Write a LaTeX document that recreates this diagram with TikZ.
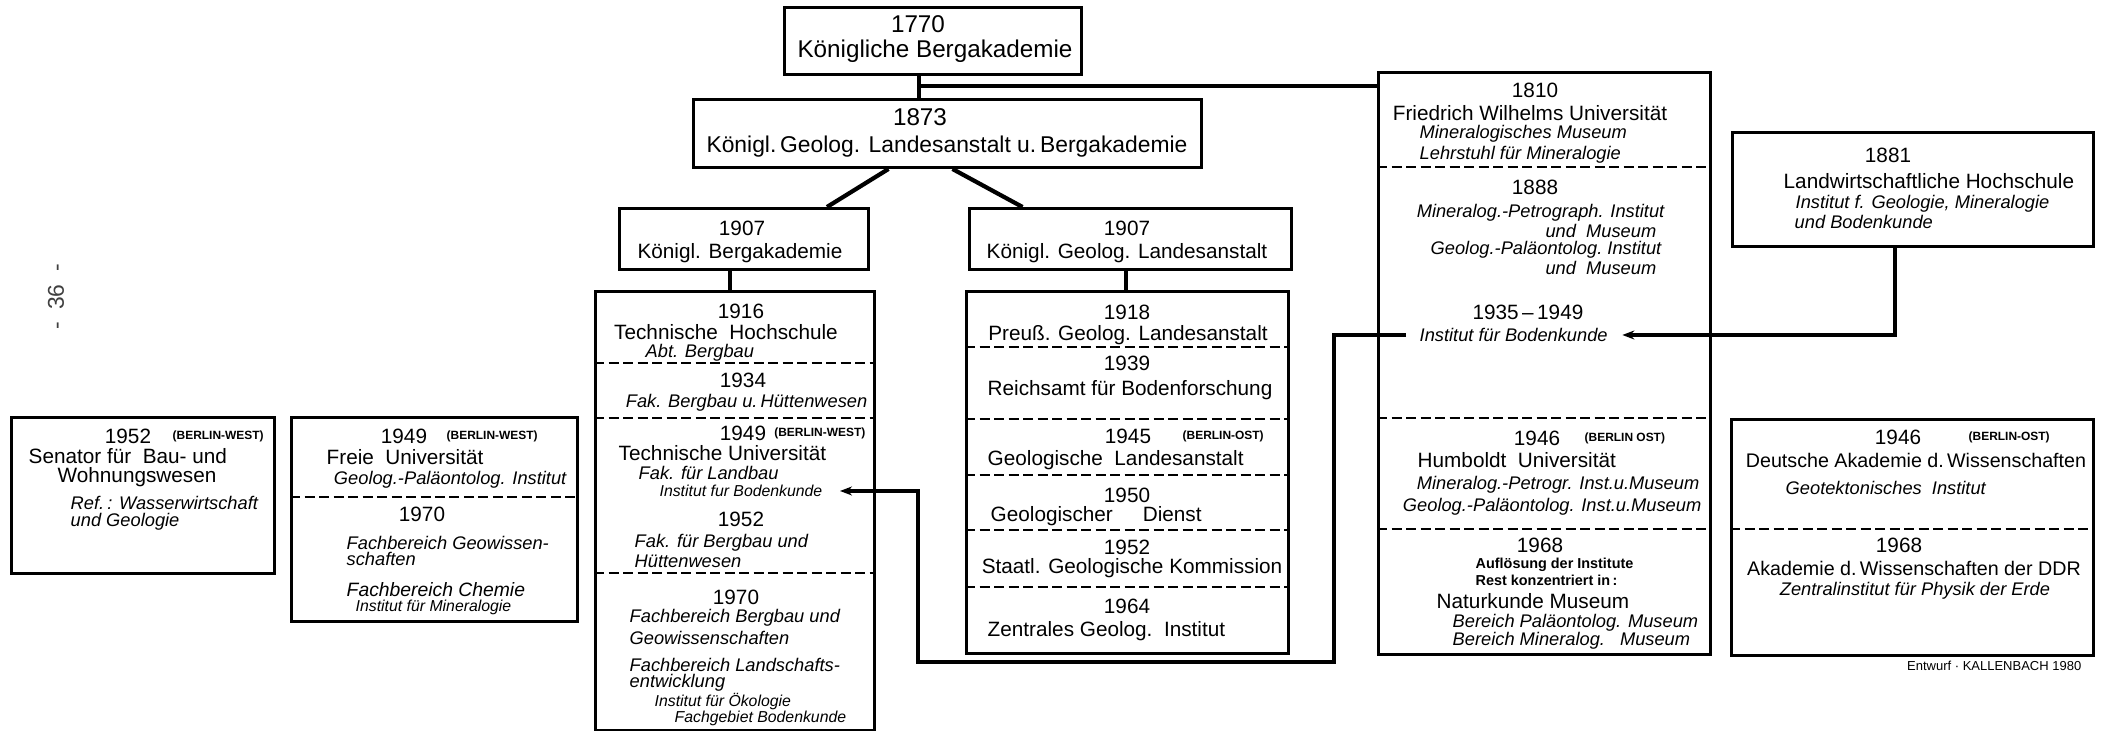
\documentclass[tikz,border=0pt]{standalone}
\usepackage{fontspec}
\setmainfont{Liberation Sans}
\usetikzlibrary{arrows.meta, calc, positioning}

\begin{document}
\begin{tikzpicture}[x=0.1mm, y=-0.1mm, >={Stealth[length=1.2mm,width=0.9mm]},
  box/.style={draw, line width=0.85pt, inner sep=0pt, anchor=north west},
  conn/.style={line width=0.9pt},
  divider/.style={line width=0.6pt, dash pattern=on 1mm off 0.45mm},
  lbl/.style={inner sep=0pt, font=\fontsize{5.9}{6}\selectfont},
  big/.style={inner sep=0pt, font=\fontsize{6.9}{7}\selectfont},
  sub/.style={inner sep=0pt, font=\fontsize{5.2}{6}\selectfont\itshape},
  fine/.style={inner sep=0pt, font=\fontsize{4.5}{5}\selectfont\itshape},
  mini/.style={inner sep=0pt, font=\fontsize{4.1}{5}\selectfont\bfseries},
  zone/.style={inner sep=0pt, font=\fontsize{3.4}{4}\selectfont\bfseries}]

\useasboundingbox (0,0) rectangle (2107,731);

% page number
\node[lbl, rotate=90, text=black!75, font=\fontsize{6.5}{7}\selectfont] (page) at (56,297) {-\ \ 36\ \ -};

% boxes
\node[box, minimum width=29.7mm, minimum height=6.7mm] (ba1770) at (783,6) {};
\node[box, minimum width=50.8mm, minimum height=6.8mm] (gla1873) at (692,98) {};
\node[box, minimum width=24.9mm, minimum height=6.1mm] (ba1907) at (618,207) {};
\node[box, minimum width=32.2mm, minimum height=6.1mm] (gla1907) at (968,207) {};
\node[box, minimum width=27.9mm, minimum height=43.9mm] (tu) at (594,290) {};
\node[box, minimum width=32.2mm, minimum height=36.2mm] (zgi) at (965,290) {};
\node[box, minimum width=33.2mm, minimum height=58.2mm] (hu) at (1377,71) {};
\node[box, minimum width=36.1mm, minimum height=11.4mm] (lwh) at (1731,131) {};
\node[box, minimum width=36.2mm, minimum height=23.6mm] (adw) at (1730,418) {};
\node[box, minimum width=26.3mm, minimum height=15.6mm] (sen) at (10,416) {};
\node[box, minimum width=28.6mm, minimum height=20.4mm] (fu) at (290,416) {};

% dashed dividers
\foreach \y in {363,418,573} \draw[divider] (594,\y) -- (873,\y);
\foreach \y in {347,419,475,530,587} \draw[divider] (965,\y) -- (1287,\y);
\foreach \y in {167,418,529} \draw[divider] (1377,\y) -- (1709,\y);
\draw[divider] (1730,529) -- (2092,529);
\draw[divider] (290,497) -- (576,497);

% 1770 / 1873
\node[big] (y1770) at (918,24) {1770};
\node[big] (n1770) at (935,51) {Königliche Bergakademie};
\node[big] (y1873) at (920,117) {1873};
\node[big, font=\fontsize{6.5}{7}\selectfont] (n1873) at (947,147) {Königl.\,Geolog. Landesanstalt u.\,Bergakademie};

% 1907
\node[lbl] (y1907a) at (742,228) {1907};
\node[lbl] (n1907a) at (740,253) {Königl. Bergakademie};
\node[lbl] (y1907b) at (1127,228) {1907};
\node[lbl] (n1907b) at (1127,253) {Königl. Geolog. Landesanstalt};

% Technische Hochschule / Universitaet
\node[lbl] (tu16a) at (741,311) {1916};
\node[lbl] (tu16b) at (726,332) {Technische\ \ Hochschule};
\node[sub, anchor=west] (tu16c) at (645,353) {Abt. Bergbau};
\node[lbl] (tu34a) at (743,380) {1934};
\node[sub, anchor=east] (tu34b) at (868,403) {Fak. Bergbau u.\,Hüttenwesen};
\node[lbl] (tu49a) at (743,433) {1949};
\node[zone, anchor=east] (tu49z) at (866,433) {(BERLIN-WEST)};
\node[lbl, anchor=west] (tu49b) at (618,453) {Technische Universität};
\node[sub, anchor=west] (tu49c) at (638,473) {Fak. für Landbau};
\node[fine, anchor=east] (tu49d) at (823,491) {Institut fur Bodenkunde};
\node[lbl] (tu52a) at (741,519) {1952};
\node[sub, anchor=west] (tu52b) at (634,543) {Fak. für Bergbau und};
\node[sub, anchor=west] (tu52c) at (634,561) {Hüttenwesen};
\node[lbl] (tu70a) at (736,597) {1970};
\node[sub, anchor=west] (tu70b) at (629,618) {Fachbereich Bergbau und};
\node[sub, anchor=west] (tu70c) at (629,638) {Geowissenschaften};
\node[sub, anchor=west] (tu70d) at (629,665) {Fachbereich Landschafts-};
\node[sub, anchor=west] (tu70e) at (629,683) {entwicklung};
\node[fine, anchor=west] (tu70f) at (654,702) {Institut für Ökologie};
\node[fine, anchor=west] (tu70g) at (674,718) {Fachgebiet Bodenkunde};

% Preuss. Geolog. Landesanstalt ... Zentrales Geolog. Institut
\node[lbl] (pg18a) at (1127,312) {1918};
\node[lbl] (pg18b) at (1128,335) {Preuß. Geolog. Landesanstalt};
\node[lbl] (pg39a) at (1127,363) {1939};
\node[lbl] (pg39b) at (1130,390) {Reichsamt für Bodenforschung};
\node[lbl] (pg45a) at (1128,436) {1945};
\node[zone, anchor=west] (pg45z) at (1182,436) {(BERLIN-OST)};
\node[lbl, anchor=west] (pg45b) at (987,460) {Geologische\ \ Landesanstalt};
\node[lbl] (pg50a) at (1127,495) {1950};
\node[lbl, anchor=west] (pg50b) at (990,516) {Geologischer\hspace{3mm}Dienst};
\node[lbl] (pg52a) at (1127,547) {1952};
\node[lbl] (pg52b) at (1132,568) {Staatl. Geologische Kommission};
\node[lbl] (pg64a) at (1127,606) {1964};
\node[lbl, anchor=west] (pg64b) at (987,631) {Zentrales Geolog.\ \ Institut};

% Senator
\node[lbl] (se52a) at (128,436) {1952};
\node[zone, anchor=west] (se52z) at (172,436) {(BERLIN-WEST)};
\node[lbl, anchor=west] (se52b) at (28,456) {Senator für\ \ Bau- und};
\node[lbl, anchor=west] (se52c) at (57,477) {Wohnungswesen};
\node[sub, anchor=west] (se52d) at (70,503) {Ref.\,: Wasserwirtschaft};
\node[sub, anchor=west] (se52e) at (70,522) {und Geologie};

% Freie Universitaet
\node[lbl] (fu49a) at (404,436) {1949};
\node[zone, anchor=west] (fu49z) at (446,436) {(BERLIN-WEST)};
\node[lbl, anchor=west] (fu49b) at (326,457) {Freie\ \ Universität};
\node[sub, anchor=east] (fu49c) at (567,480) {Geolog.-Paläontolog. Institut};
\node[lbl] (fu70a) at (422,514) {1970};
\node[sub, anchor=west] (fu70b) at (346,543) {Fachbereich Geowissen-};
\node[sub, anchor=west] (fu70c) at (346,559) {schaften};
\node[sub, anchor=west, font=\fontsize{5.5}{6}\selectfont\itshape] (fu70d) at (346,590) {Fachbereich Chemie};
\node[fine, anchor=west] (fu70e) at (355,607) {Institut für Mineralogie};

% Friedrich Wilhelms / Humboldt Universitaet
\node[lbl] (hu10a) at (1535,90) {1810};
\node[lbl] (hu10b) at (1530,113) {Friedrich Wilhelms Universität};
\node[sub, anchor=west] (hu10c) at (1419,134) {Mineralogisches Museum};
\node[sub, anchor=west] (hu10d) at (1419,155) {Lehrstuhl für Mineralogie};
\node[lbl] (hu88a) at (1535,187) {1888};
\node[sub, anchor=east] (hu88b) at (1665,213) {Mineralog.-Petrograph. Institut};
\node[sub, anchor=east] (hu88c) at (1657,231) {und\ \ Museum};
\node[sub, anchor=east] (hu88d) at (1662,250) {Geolog.-Paläontolog.\ Institut};
\node[sub, anchor=east] (hu88e) at (1657,268) {und\ \ Museum};
\node[lbl] (hu35a) at (1528,312) {1935\,--\,1949};
\node[sub, anchor=west] (hu35b) at (1419,335) {Institut für Bodenkunde};
\node[lbl] (hu46a) at (1537,438) {1946};
\node[zone, anchor=west] (hu46z) at (1584,438) {(BERLIN OST)};
\node[lbl, anchor=west] (hu46b) at (1417,460) {Humboldt\ \ Universität};
\node[sub, anchor=east] (hu46c) at (1700,485) {Mineralog.-Petrogr. Inst.u.Museum};
\node[sub, anchor=east] (hu46d) at (1702,507) {Geolog.-Paläontolog. Inst.u.Museum};
\node[lbl] (hu68a) at (1540,545) {1968};
\node[mini, anchor=west] (hu68b) at (1475,565) {Auflösung der Institute};
\node[mini, anchor=west] (hu68c) at (1475,580) {Rest konzentriert in\,:};
\node[lbl, anchor=west] (hu68d) at (1436,601) {Naturkunde Museum};
\node[sub, anchor=west] (hu68e) at (1452,623) {Bereich Paläontolog. Museum};
\node[sub, anchor=west] (hu68f) at (1452,641) {Bereich Mineralog.\hspace{1.5mm}Museum};

% Landwirtschaftliche Hochschule
\node[lbl] (lw81a) at (1888,155) {1881};
\node[lbl, anchor=west] (lw81b) at (1783,181) {Landwirtschaftliche Hochschule};
\node[sub, anchor=west] (lw81c) at (1795,204) {Institut f. Geologie, Mineralogie};
\node[sub, anchor=west] (lw81d) at (1794,222) {und Bodenkunde};

% Akademie der Wissenschaften
\node[lbl] (ad46a) at (1898,437) {1946};
\node[zone, anchor=west] (ad46z) at (1968,437) {(BERLIN-OST)};
\node[lbl, font=\fontsize{5.6}{6}\selectfont] (ad46b) at (1916,460) {Deutsche Akademie d.\,Wissenschaften};
\node[sub, anchor=west] (ad46c) at (1785,488) {Geotektonisches\ \ Institut};
\node[lbl] (ad68a) at (1899,545) {1968};
\node[lbl, font=\fontsize{5.6}{6}\selectfont] (ad68b) at (1914,568) {Akademie d.\,Wissenschaften der DDR};
\node[sub] (ad68c) at (1915,591) {Zentralinstitut für Physik der Erde};
\node[inner sep=0pt, font=\fontsize{3.7}{4}\selectfont, anchor=east] (credit) at (2082,666) {Entwurf · KALLENBACH 1980};

% connectors
\coordinate (j1) at (919,86);
\coordinate (v1) at (730,0);
\coordinate (v2) at (1126,0);
\coordinate (c1) at (1334,662);
\coordinate (c2) at (918,662);
\coordinate (c3) at (1895,0);

\draw[conn] (ba1770.south -| j1) -- (gla1873.north -| j1);
\draw[conn, line width=1.1pt] (j1) -- (hu.west |- j1);
\draw[conn, line width=1.2pt] ($(gla1873.south)+(-59,0)$) -- ($(ba1907.north)+(83,0)$);
\draw[conn, line width=1.2pt] ($(gla1873.south)+(5,0)$) -- ($(gla1907.north)+(-108,0)$);
\draw[conn] (ba1907.south -| v1) -- (tu.north -| v1);
\draw[conn] (gla1907.south -| v2) -- (zgi.north -| v2);
\draw[conn, ->, shorten <=1.3mm, shorten >=1.7mm] (hu35b.west) -| (c1) -- (c2) |- (tu49d.east);
\draw[conn, ->, shorten >=1.4mm] (lwh.south -| c3) |- (hu35b.east);

\end{tikzpicture}
\end{document}
